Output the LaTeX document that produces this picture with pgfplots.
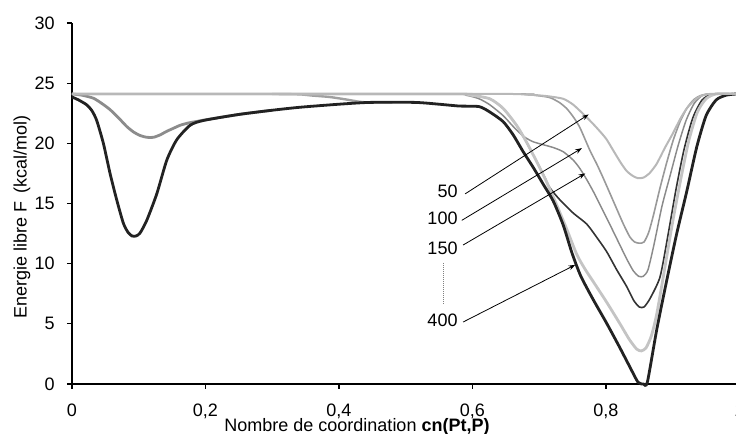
\documentclass[border=0pt]{standalone}
\usepackage{pgfplots}
\pgfplotsset{compat=1.18}
\usepackage{fontspec}
\setmainfont{Liberation Sans}
\usetikzlibrary{arrows.meta}
\definecolor{cA}{HTML}{B8B8B8}
\definecolor{cB}{HTML}{8C8C8C}
\definecolor{cBp}{HTML}{999999}
\definecolor{cC}{HTML}{8A8A8A}
\definecolor{cD}{HTML}{333333}
\definecolor{cE}{HTML}{C4C4C4}
\definecolor{cF}{HTML}{A0A0A0}
\definecolor{cK}{HTML}{222222}
\begin{document}
\begin{tikzpicture}
\begin{axis}[
  scale only axis, width=500.6pt, height=270.75pt,
  xmin=0, xmax=1, ymin=0, ymax=30,
  axis x line*=bottom, axis y line*=left,
  axis line style={-, line width=0.9pt},
  tick align=outside, major tick length=3.75pt,
  tick style={line width=0.9pt, black},
  xtick={0,0.2,0.4,0.6,0.8,1},
  xticklabels={0,{0,2},{0,4},{0,6},{0,8},1},
  ytick={0,5,...,30},
  /pgf/number format/assume math mode=true,
  tick label style={font=\fontsize{13.5pt}{16pt}\selectfont},
  xticklabel style={anchor=base, inner sep=0pt, yshift=-20.5pt},
  yticklabel style={anchor=east, inner sep=0pt, xshift=-9pt},
  every axis x label/.style={at={(axis cs:0.427,-3.95)}, anchor=base},
  every axis y label/.style={at={(axis cs:-0.075,13.9)}, anchor=center, rotate=90},
  xlabel={\fontsize{13.5pt}{16pt}\selectfont Nombre de coordination \textbf{cn(Pt,P)}},
  ylabel={\fontsize{13.5pt}{16pt}\selectfont Energie libre F\ \,(kcal/mol)},
  clip=false,
]
% B (left dip)
\addplot[cB, line width=2.1pt, smooth, tension=0.4] coordinates {
(0,24.1)(0.015,24.0)(0.032,23.75)(0.045,23.3)(0.057,22.8)(0.07,22.1)(0.082,21.4)(0.092,20.95)(0.102,20.65)(0.112,20.5)(0.122,20.5)(0.132,20.7)(0.142,21.0)(0.152,21.25)(0.162,21.5)(0.175,21.7)(0.19,21.85)(0.2,21.95)(0.25,22.4)(0.3,22.75)};
% F
\addplot[cF, line width=1.8pt, smooth, tension=0.4] coordinates {
(0.3,24.1)(0.34,24.07)(0.36,23.97)(0.386,23.85)(0.41,23.65)(0.431,23.45)(0.446,23.4)(0.48,23.4)};
% C (150)
\addplot[cC, line width=1.1pt, smooth, tension=0.4] coordinates {
(0,24.1)(0.56,24.1)(0.59,24.0)(0.61,23.7)(0.626,23.2)(0.646,22.3)(0.661,21.4)(0.676,20.6)(0.69,20.15)(0.705,19.9)(0.721,19.65)(0.736,19.3)(0.751,18.6)(0.761,17.9)(0.771,17.0)(0.781,16.0)(0.791,14.9)(0.801,13.8)(0.816,12.1)(0.831,10.4)(0.841,9.4)(0.849,8.95)(0.856,8.95)(0.863,9.5)(0.872,11.6)(0.884,14.8)(0.896,17.3)(0.908,19.8)(0.92,21.9)(0.932,23.3)(0.945,24.0)(0.96,24.1)(0.995,24.1)};
% D (shoulder)
\addplot[cD, line width=1.2pt, smooth, tension=0.4] coordinates {
(0,24.1)(0.58,24.1)(0.597,24.0)(0.626,23.7)(0.646,22.9)(0.666,21.5)(0.681,20.1)(0.696,18.5)(0.708,17.2)(0.716,16.3)(0.731,15.3)(0.751,14.2)(0.771,13.3)(0.786,12.2)(0.801,11.0)(0.816,9.5)(0.831,8.1)(0.842,6.9)(0.85,6.4)(0.857,6.4)(0.866,7.1)(0.881,8.9)(0.893,12.4)(0.905,16.2)(0.917,19.5)(0.93,22.1)(0.944,23.6)(0.96,24.1)(0.995,24.1)};
% B' (100)
\addplot[cBp, line width=1.2pt, smooth, tension=0.4] coordinates {
(0,24.1)(0.65,24.1)(0.681,24.05)(0.7,23.95)(0.716,23.8)(0.73,23.4)(0.741,22.9)(0.751,22.2)(0.761,21.3)(0.776,19.4)(0.786,18.3)(0.796,17.1)(0.811,15.2)(0.826,13.3)(0.836,12.2)(0.843,11.8)(0.85,11.7)(0.857,11.8)(0.864,12.6)(0.871,14.0)(0.881,16.3)(0.891,18.4)(0.901,20.3)(0.911,21.8)(0.921,22.9)(0.931,23.6)(0.941,23.95)(0.955,24.1)(0.995,24.1)};
% E (light thick)
\addplot[cE, line width=2.1pt, smooth, tension=0.4] coordinates {
(0,24.1)(0.56,24.1)(0.597,24.0)(0.626,23.7)(0.646,22.9)(0.666,21.5)(0.681,20.1)(0.696,18.5)(0.711,16.8)(0.726,14.9)(0.741,12.9)(0.756,10.8)(0.768,9.6)(0.781,8.5)(0.801,6.8)(0.821,5.0)(0.835,3.7)(0.846,2.9)(0.853,2.75)(0.86,3.0)(0.868,4.0)(0.876,5.8)(0.888,9.6)(0.9,13.5)(0.912,17.0)(0.924,20.2)(0.937,22.6)(0.95,23.7)(0.965,24.1)(0.995,24.1)};
% 400 (black)
\addplot[cK, line width=2.1pt, smooth, tension=0.4] coordinates {
(0,23.85)(0.01,23.6)(0.022,23.2)(0.03,22.7)(0.037,21.9)(0.047,20.0)(0.057,17.5)(0.067,15.3)(0.077,13.35)(0.084,12.6)(0.09,12.3)(0.096,12.3)(0.102,12.55)(0.112,13.6)(0.127,15.8)(0.142,18.6)(0.157,20.3)(0.177,21.5)(0.197,21.9)(0.25,22.4)(0.3,22.75)(0.342,23.0)(0.4,23.25)(0.446,23.4)(0.514,23.4)(0.55,23.25)(0.58,23.1)(0.61,23.05)(0.626,22.6)(0.646,21.8)(0.661,20.7)(0.676,19.3)(0.691,18.0)(0.706,16.6)(0.721,15.2)(0.736,13.2)(0.749,10.9)(0.762,9.0)(0.78,7.1)(0.801,5.05)(0.82,3.1)(0.835,1.5)(0.848,0.15)(0.856,0)(0.862,0.15)(0.876,4.5)(0.891,8.6)(0.906,12.5)(0.921,16.0)(0.936,19.7)(0.95,22.3)(0.965,23.6)(0.98,24.0)(0.995,24.1)};
% A (50)
\addplot[cA, line width=1.5pt, smooth, tension=0.4] coordinates {
(0,24.1)(0.6,24.1)(0.66,24.1)(0.69,24.03)(0.715,23.9)(0.736,23.7)(0.75,23.25)(0.761,22.7)(0.774,22.0)(0.786,21.3)(0.8,20.4)(0.811,19.4)(0.822,18.4)(0.831,17.7)(0.84,17.3)(0.848,17.1)(0.856,17.15)(0.865,17.5)(0.876,18.3)(0.888,19.6)(0.9,20.8)(0.911,22.0)(0.921,22.9)(0.931,23.5)(0.941,23.9)(0.955,24.1)(0.995,24.1)};
% annotations
\draw[-{Stealth[length=5pt,width=3.6pt]}, line width=0.6pt, black] (axis cs:0.589,15.8) -- (axis cs:0.774,22.4);
\draw[-{Stealth[length=5pt,width=3.6pt]}, line width=0.6pt, black] (axis cs:0.584,13.6) -- (axis cs:0.764,19.6);
\draw[-{Stealth[length=5pt,width=3.6pt]}, line width=0.6pt, black] (axis cs:0.586,11.55) -- (axis cs:0.769,17.5);
\draw[-{Stealth[length=5pt,width=3.6pt]}, line width=0.6pt, black] (axis cs:0.586,5.15) -- (axis cs:0.754,9.9);
\draw[densely dotted, gray, line width=0.5pt] (axis cs:0.557,10.06) -- (axis cs:0.557,6.73);
\node[anchor=east, inner sep=0pt, font=\fontsize{13.5pt}{16pt}\selectfont] at (axis cs:0.578,15.98) {50};
\node[anchor=east, inner sep=0pt, font=\fontsize{13.5pt}{16pt}\selectfont] at (axis cs:0.578,13.8) {100};
\node[anchor=east, inner sep=0pt, font=\fontsize{13.5pt}{16pt}\selectfont] at (axis cs:0.578,11.3) {150};
\node[anchor=east, inner sep=0pt, font=\fontsize{13.5pt}{16pt}\selectfont] at (axis cs:0.578,5.3) {400};
\end{axis}
\pgfresetboundingbox
\path[use as bounding box] (-54pt,-37.5pt) rectangle (498pt,288pt);
\end{tikzpicture}
\end{document}
